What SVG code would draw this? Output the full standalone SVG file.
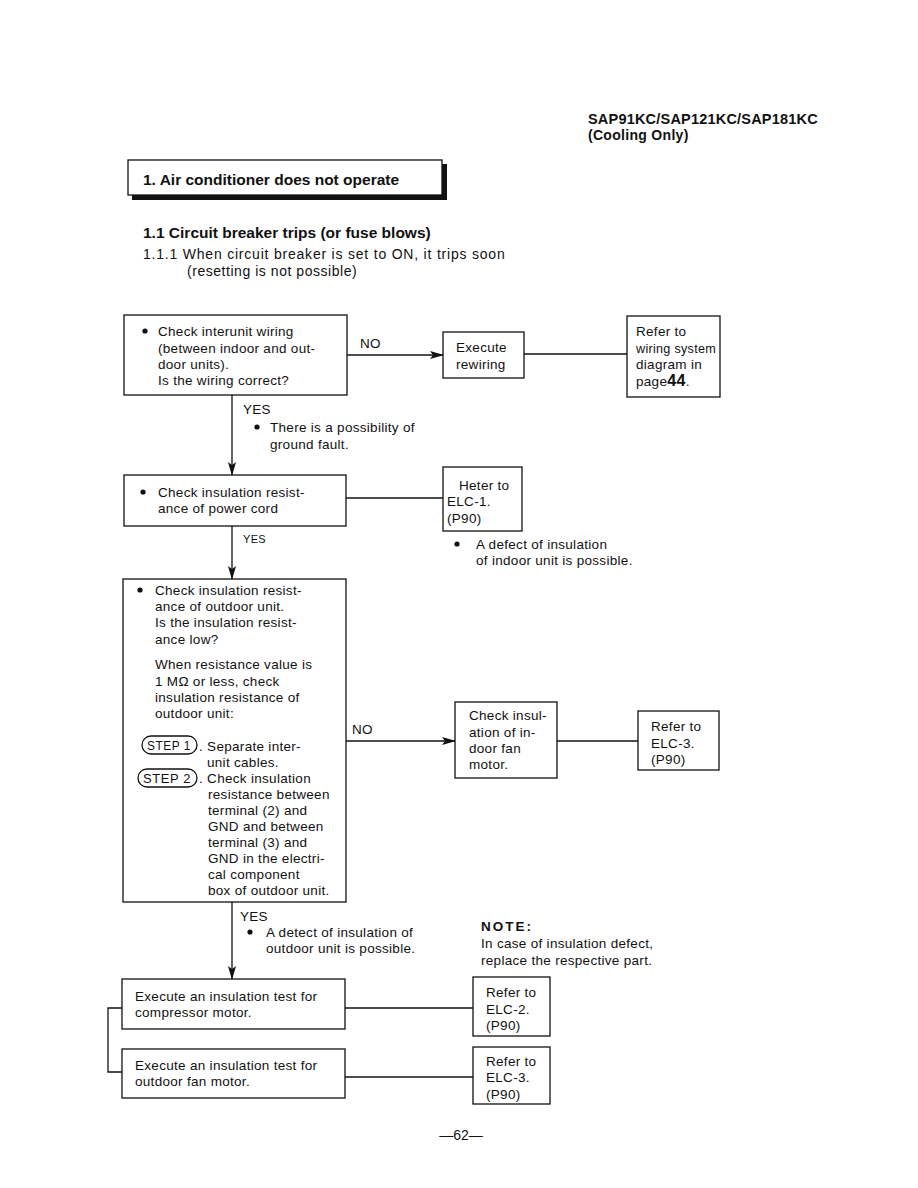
<svg xmlns="http://www.w3.org/2000/svg" width="918" height="1188" viewBox="0 0 918 1188">
<defs>
<marker id="arr" markerWidth="14" markerHeight="8" refX="13" refY="4" orient="auto" markerUnits="userSpaceOnUse">
<path d="M0,0 L14,4 L0,8 L3,4 Z" fill="#111"/>
</marker>
</defs>
<style>
text{font-family:"Liberation Sans",Arial,sans-serif;font-size:13.5px;fill:#111;letter-spacing:0.3px}
.b{font-weight:bold}
.box{fill:#fff;stroke:#111;stroke-width:1.3}
.ln{fill:none;stroke:#111;stroke-width:1.3}
.dot{fill:#111}
.pill{fill:none;stroke:#111;stroke-width:1.3}
.st{font-size:13px;letter-spacing:0.6px}
</style>
<rect width="918" height="1188" fill="#fff"/>

<g id="header">
<text class="b" x="588" y="124" style="font-size:14.5px;letter-spacing:0.2px">SAP91KC/SAP121KC/SAP181KC</text>
<text class="b" x="588" y="140" style="font-size:14px">(Cooling Only)</text>
</g>

<g id="title">
<rect x="132" y="164" width="315" height="36" fill="#111"/>
<rect x="128" y="160" width="314" height="35" class="box"/>
<text class="b" x="143" y="185" style="font-size:15.5px;letter-spacing:0">1. Air conditioner does not operate</text>
</g>

<g id="section">
<text class="b" x="143" y="238" style="font-size:15.5px;letter-spacing:0">1.1  Circuit breaker trips (or fuse blows)</text>
<text x="143" y="259" style="font-size:14px" textLength="362" lengthAdjust="spacing">1.1.1  When circuit breaker is set to ON, it trips soon</text>
<text x="187" y="276" style="font-size:14px" textLength="170" lengthAdjust="spacing">(resetting is not possible)</text>
</g>

<g id="connectors">
<line x1="347" y1="355" x2="443" y2="355" class="ln" marker-end="url(#arr)"/>
<line x1="524" y1="354" x2="627" y2="354" class="ln"/>
<line x1="232" y1="395" x2="232" y2="475" class="ln" marker-end="url(#arr)"/>
<line x1="346" y1="498" x2="443" y2="498" class="ln"/>
<line x1="232" y1="526" x2="232" y2="579" class="ln" marker-end="url(#arr)"/>
<line x1="346" y1="741" x2="455" y2="741" class="ln" marker-end="url(#arr)"/>
<line x1="557" y1="741" x2="638" y2="741" class="ln"/>
<line x1="232" y1="902" x2="232" y2="979" class="ln" marker-end="url(#arr)"/>
<line x1="345" y1="1008" x2="473" y2="1008" class="ln"/>
<line x1="345" y1="1077" x2="473" y2="1077" class="ln"/>
<polyline points="122,1008 108,1008 108,1072 122,1072" class="ln"/>
<text x="360" y="348">NO</text>
<text x="243" y="414">YES</text>
<circle cx="257" cy="427" r="2.6" class="dot"/>
<text x="270" y="432">There is a possibility of</text>
<text x="270" y="449">ground fault.</text>
<text x="243" y="543" style="font-size:11px">YES</text>
<text x="352" y="734">NO</text>
<text x="240" y="921">YES</text>
<circle cx="250" cy="932" r="2.6" class="dot"/>
<text x="266" y="937">A detect of insulation of</text>
<text x="266" y="953">outdoor unit is possible.</text>
</g>

<g id="n1">
<rect x="124" y="315" width="223" height="80" class="box"/>
<circle cx="145" cy="331" r="2.6" class="dot"/>
<text x="158" y="336">Check interunit wiring</text>
<text x="158" y="353">(between indoor and out-</text>
<text x="158" y="369">door units).</text>
<text x="158" y="385">Is the wiring correct?</text>
</g>

<g id="n2">
<rect x="443" y="332" width="81" height="46" class="box"/>
<text x="456" y="352">Execute</text>
<text x="456" y="369">rewiring</text>
</g>

<g id="n3">
<rect x="627" y="316" width="93" height="81" class="box"/>
<text x="636" y="336">Refer to</text>
<text x="636" y="353" textLength="80" lengthAdjust="spacingAndGlyphs">wiring system</text>
<text x="636" y="369">diagram in</text>
<text x="636" y="386">page<tspan style="font-size:16px;font-weight:bold">44</tspan>.</text>
</g>

<g id="n4">
<rect x="124" y="475" width="222" height="51" class="box"/>
<circle cx="143" cy="492" r="2.6" class="dot"/>
<text x="158" y="497">Check insulation resist-</text>
<text x="158" y="513">ance of power cord</text>
</g>

<g id="n5">
<rect x="443" y="467" width="79" height="64" class="box"/>
<text x="459" y="490">Heter to</text>
<text x="447" y="506">ELC-1.</text>
<text x="447" y="523">(P90)</text>
</g>

<g id="note1">
<circle cx="457" cy="544" r="2.6" class="dot"/>
<text x="476" y="549">A defect of insulation</text>
<text x="476" y="565">of indoor unit is possible.</text>
</g>

<g id="n6">
<rect x="123" y="579" width="223" height="323" class="box"/>
<circle cx="140" cy="590" r="2.6" class="dot"/>
<text x="155" y="595">Check insulation resist-</text>
<text x="155" y="611">ance of outdoor unit.</text>
<text x="155" y="627">Is the insulation resist-</text>
<text x="155" y="644">ance low?</text>
<text x="155" y="669">When resistance value is</text>
<text x="155" y="686">1 MΩ or less, check</text>
<text x="155" y="702">insulation resistance of</text>
<text x="155" y="718">outdoor unit:</text>
<rect x="142" y="736" width="55" height="18" rx="9" class="pill"/>
<text x="147" y="750" class="st" textLength="44" lengthAdjust="spacingAndGlyphs">STEP 1</text>
<text x="199" y="751">. Separate inter-</text>
<text x="207" y="767">unit cables.</text>
<rect x="138" y="769" width="59" height="18" rx="9" class="pill"/>
<text x="143" y="783" class="st" textLength="48" lengthAdjust="spacingAndGlyphs">STEP 2</text>
<text x="199" y="783">. Check insulation</text>
<text x="208" y="799">resistance between</text>
<text x="208" y="815">terminal (2) and</text>
<text x="208" y="831">GND and between</text>
<text x="208" y="847">terminal (3) and</text>
<text x="208" y="863">GND in the electri-</text>
<text x="208" y="879">cal component</text>
<text x="208" y="895">box of outdoor unit.</text>
</g>

<g id="n7">
<rect x="455" y="702" width="102" height="76" class="box"/>
<text x="469" y="720">Check insul-</text>
<text x="469" y="737">ation of in-</text>
<text x="469" y="753">door fan</text>
<text x="469" y="769">motor.</text>
</g>

<g id="n8">
<rect x="638" y="711" width="81" height="59" class="box"/>
<text x="651" y="731">Refer to</text>
<text x="651" y="748">ELC-3.</text>
<text x="651" y="764">(P90)</text>
</g>

<g id="note2">
<text class="b" x="481" y="931" style="letter-spacing:2px">NOTE:</text>
<text x="481" y="948">In case of insulation defect,</text>
<text x="481" y="965">replace the respective part.</text>
</g>

<g id="n9">
<rect x="122" y="979" width="223" height="50" class="box"/>
<text x="135" y="1001">Execute an insulation test for</text>
<text x="135" y="1017">compressor motor.</text>
</g>

<g id="n10">
<rect x="473" y="977" width="77" height="59" class="box"/>
<text x="486" y="997">Refer to</text>
<text x="486" y="1014">ELC-2.</text>
<text x="486" y="1030">(P90)</text>
</g>

<g id="n11">
<rect x="122" y="1049" width="223" height="49" class="box"/>
<text x="135" y="1070">Execute an insulation test for</text>
<text x="135" y="1086">outdoor fan motor.</text>
</g>

<g id="n12">
<rect x="473" y="1047" width="77" height="57" class="box"/>
<text x="486" y="1066">Refer to</text>
<text x="486" y="1082">ELC-3.</text>
<text x="486" y="1099">(P90)</text>
</g>

<g id="footer">
<text x="461" y="1140" text-anchor="middle" style="font-size:14px;letter-spacing:0">—62—</text>
</g>
</svg>
